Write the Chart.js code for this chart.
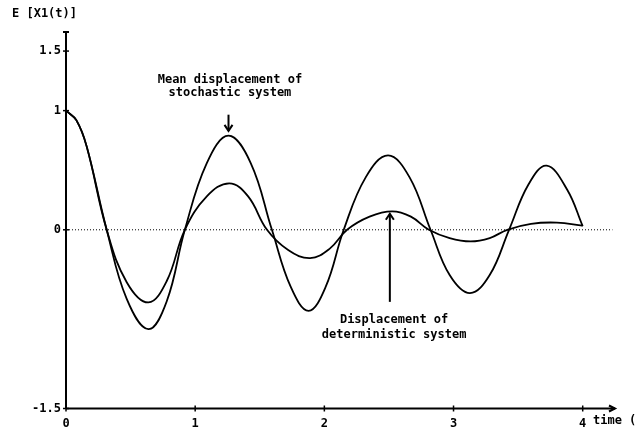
<!DOCTYPE html>
<html>
<head>
<meta charset="utf-8">
<script src="https://cdn.jsdelivr.net/npm/chart.js@4/dist/chart.umd.min.js"></script>
<style>
  html, body { margin: 0; padding: 0; background: #fff; }
  #wrap { width: 638px; height: 430px; }
</style>
</head>
<body>
<div id="wrap"><canvas id="chart" width="638" height="430"></canvas></div>
<script>
// values
const stochTime = [0, 0.08, 0.16, 0.315, 0.47, 0.638, 0.78, 0.92, 1.09, 1.258, 1.43, 1.594, 1.74, 1.878, 2.01, 2.15, 2.32, 2.493, 2.66, 2.822, 2.97, 3.127, 3.28, 3.43, 3.58, 3.721, 3.88, 4.0];
const stochValues = [1.0, 0.92, 0.70, 0.0, -0.58, -0.834, -0.60, 0.0, 0.56, 0.79, 0.56, 0.0, -0.48, -0.68, -0.48, 0.0, 0.44, 0.624, 0.44, 0.0, -0.38, -0.532, -0.38, 0.0, 0.38, 0.538, 0.336, 0.03];

const detTime = [0, 0.08, 0.16, 0.315, 0.47, 0.638, 0.78, 0.92, 1.09, 1.264, 1.41, 1.556, 1.72, 1.89, 2.04, 2.176, 2.35, 2.525, 2.67, 2.809, 2.97, 3.132, 3.28, 3.416, 3.6, 3.8, 4.0];
const detValues = [1.0, 0.92, 0.70, 0.0, -0.44, -0.61, -0.43, 0.0, 0.28, 0.39, 0.28, 0.0, -0.17, -0.238, -0.16, 0.0, 0.11, 0.154, 0.11, 0.0, -0.07, -0.098, -0.07, 0.0, 0.05, 0.06, 0.034];

const xTicks = [0, 1, 2, 3, 4];
const xTickLabels = ['0', '1', '2', '3', '4'];
const yTicks = [1.5, 1, 0, -1.5];
const yTickLabels = ['1.5', '1', '0', '-1.5'];

const yTitle = 'E [X1(t)]';
const xTitle = 'time (';
const stochNote = ['Mean displacement of', 'stochastic system'];
const detNote = ['Displacement of', 'deterministic system'];

const FONT = "bold 12px 'DejaVu Sans Mono', monospace";

function toPoints(xs, ys) {
    return xs.map((x, i) => ({ x: x, y: ys[i] }));
}

// axes, ticks, zero line and notes drawn through the chart scales
const axesPlugin = {
    id: 'oldAxes',
    beforeDatasetsDraw(chart) {
        const ctx = chart.ctx;
        const xs = chart.scales.x;
        const ys = chart.scales.y;
        const ca = chart.chartArea;
        const y0 = ys.getPixelForValue(0);

        // dotted zero line
        ctx.save();
        ctx.strokeStyle = '#000';
        ctx.lineWidth = 1;
        ctx.setLineDash([1, 2]);
        ctx.beginPath();
        ctx.moveTo(ca.left, y0);
        ctx.lineTo(xs.getPixelForValue(4.23), y0);
        ctx.stroke();
        ctx.restore();
    },
    afterDatasetsDraw(chart) {
        const ctx = chart.ctx;
        const xs = chart.scales.x;
        const ys = chart.scales.y;
        const ca = chart.chartArea;
        const yb = ys.getPixelForValue(-1.5);

        ctx.save();
        ctx.strokeStyle = '#000';
        ctx.fillStyle = '#000';
        ctx.lineWidth = 2;

        // y axis
        ctx.beginPath();
        ctx.moveTo(ca.left, ca.top);
        ctx.lineTo(ca.left, yb);
        ctx.stroke();
        ctx.beginPath();
        ctx.moveTo(ca.left - 3, ca.top);
        ctx.lineTo(ca.left + 3, ca.top);
        ctx.stroke();

        // x axis with arrow
        ctx.beginPath();
        ctx.moveTo(ca.left, yb);
        ctx.lineTo(ca.right, yb);
        ctx.stroke();
        ctx.beginPath();
        ctx.moveTo(ca.right - 6, yb - 3);
        ctx.lineTo(ca.right, yb);
        ctx.lineTo(ca.right - 6, yb + 3);
        ctx.stroke();

        ctx.font = FONT;
        ctx.lineWidth = 1.5;

        // x ticks
        ctx.textAlign = 'center';
        ctx.textBaseline = 'middle';
        xTicks.forEach((v, i) => {
            const px = xs.getPixelForValue(v);
            ctx.beginPath();
            ctx.moveTo(px, yb - 3);
            ctx.lineTo(px, yb + 3);
            ctx.stroke();
            ctx.fillText(xTickLabels[i], px, yb + 15);
        });

        // y ticks
        ctx.textAlign = 'right';
        yTicks.forEach((v, i) => {
            const py = ys.getPixelForValue(v);
            ctx.beginPath();
            ctx.moveTo(ca.left - 3, py);
            ctx.lineTo(ca.left + 3, py);
            ctx.stroke();
            ctx.fillText(yTickLabels[i], ca.left - 5, py);
        });

        // axis titles
        ctx.textAlign = 'left';
        ctx.fillText(yTitle, 12, 14);
        ctx.fillText(xTitle, ca.right - 22, yb + 12);

        // notes with arrows
        ctx.textAlign = 'center';
        const sx = xs.getPixelForValue(1.269);
        ctx.fillText(stochNote[0], sx, ys.getPixelForValue(1.26));
        ctx.fillText(stochNote[1], sx, ys.getPixelForValue(1.15));
        drawArrow(ctx, xs.getPixelForValue(1.258), ys.getPixelForValue(0.966), ys.getPixelForValue(0.83));

        const dx = xs.getPixelForValue(2.54);
        ctx.fillText(detNote[0], dx, ys.getPixelForValue(-0.756));
        ctx.fillText(detNote[1], dx, ys.getPixelForValue(-0.882));
        drawArrow(ctx, xs.getPixelForValue(2.507), ys.getPixelForValue(-0.605), ys.getPixelForValue(0.134));

        ctx.restore();
    }
};

function drawArrow(ctx, x, yFrom, yTo) {
    const dir = yTo > yFrom ? 1 : -1;
    ctx.save();
    ctx.lineWidth = 2;
    ctx.beginPath();
    ctx.moveTo(x, yFrom);
    ctx.lineTo(x, yTo);
    ctx.stroke();
    ctx.beginPath();
    ctx.moveTo(x - 4, yTo - dir * 6);
    ctx.lineTo(x, yTo);
    ctx.lineTo(x + 4, yTo - dir * 6);
    ctx.stroke();
    ctx.restore();
}

new Chart(document.getElementById('chart').getContext('2d'), {
    type: 'line',
    data: {
        datasets: [
            {
                label: 'Mean displacement of stochastic system',
                data: toPoints(stochTime, stochValues),
                borderColor: '#000',
                borderWidth: 1.8,
                pointRadius: 0,
                tension: 0.4,
                fill: false
            },
            {
                label: 'Displacement of deterministic system',
                data: toPoints(detTime, detValues),
                borderColor: '#000',
                borderWidth: 1.8,
                pointRadius: 0,
                tension: 0.4,
                fill: false
            }
        ]
    },
    options: {
        responsive: false,
        animation: false,
        layout: { padding: { left: 66, right: 23, top: 32, bottom: 21.5 } },
        plugins: {
            legend: { display: false },
            tooltip: { enabled: false }
        },
        scales: {
            x: { type: 'linear', min: 0, max: 4.25, display: false },
            y: { type: 'linear', min: -1.5, max: 1.66, display: false }
        }
    },
    plugins: [axesPlugin]
});
</script>
</body>
</html>
